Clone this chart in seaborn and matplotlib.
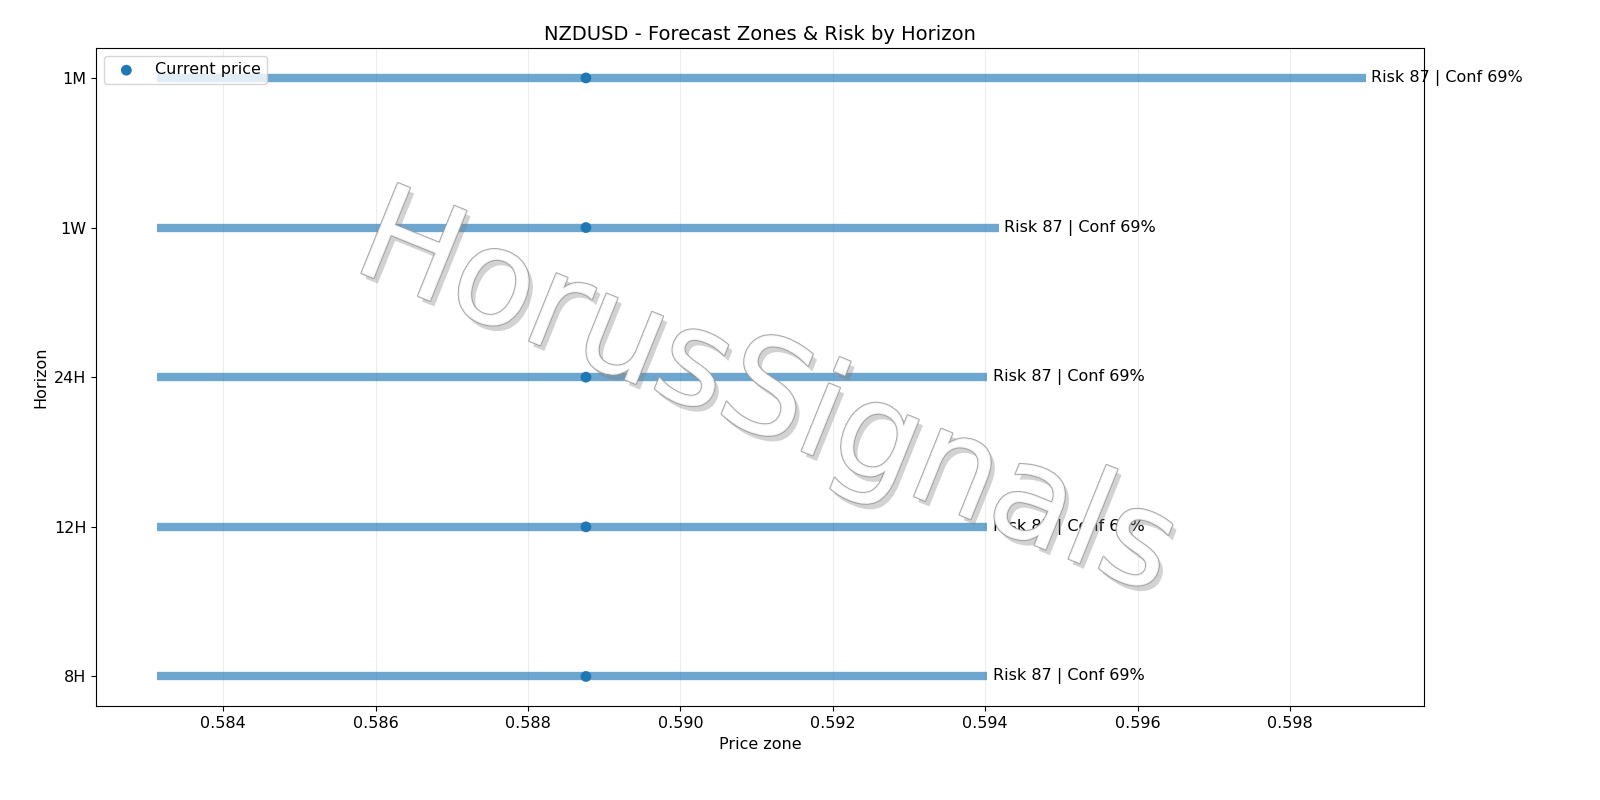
import matplotlib
matplotlib.use("Agg")
import matplotlib.pyplot as plt
import matplotlib.patheffects as pe
import seaborn as sns
import pandas as pd

horizons = ["8H", "12H", "24H", "1W", "1M"]
low = [0.58313, 0.58313, 0.58313, 0.58313, 0.58313]
high = [0.59403, 0.59403, 0.59403, 0.59418, 0.59900]
current = [0.58876, 0.58876, 0.58876, 0.58876, 0.58876]
risk = [87, 87, 87, 87, 87]
conf = [69, 69, 69, 69, 69]

sns.set_style("white")
plt.rcParams.update({"text.color": "black", "axes.labelcolor": "black",
                     "xtick.color": "black", "ytick.color": "black"})
fig, ax = plt.subplots(figsize=(16, 8), dpi=100)
fig.subplots_adjust(left=0.06, right=0.89, top=0.94, bottom=0.117)

ypos = list(range(len(horizons)))
for y, lo, hi in zip(ypos, low, high):
    ax.hlines(y, lo, hi, color="#1f77b4", alpha=0.65, linewidth=6)
df = pd.DataFrame({"price": current, "y": ypos})
sns.scatterplot(data=df, x="price", y="y", ax=ax, color="#1f77b4", s=60,
                edgecolor="none", label="Current price", zorder=3)
for y, hi, r, c in zip(ypos, high, risk, conf):
    ax.text(hi + 0.00007, y, f"Risk {r} | Conf {c}%", va="center", fontsize=11.5)

ax.set_yticks(ypos)
ax.set_yticklabels(horizons)
ax.set_ylim(-0.2, 4.2)
ax.set_xlim(0.58233, 0.59976)
ax.set_xticks([0.584, 0.586, 0.588, 0.590, 0.592, 0.594, 0.596, 0.598])
ax.grid(axis="x", alpha=0.35)
ax.tick_params(labelsize=11.5, left=True, bottom=True)
for s in ax.spines.values():
    s.set_color("black")
ax.set_xlabel("Price zone", fontsize=11.5)
ax.set_ylabel("Horizon", fontsize=11.5)
ax.set_title("NZDUSD - Forecast Zones & Risk by Horizon", fontsize=14)
ax.legend(loc="upper left", fontsize=11.5)

ax.text(0.505, 0.47, "HorusSignals", transform=ax.transAxes, fontsize=96,
        rotation=-22, ha="center", va="center", color="white", alpha=0.85,
        path_effects=[pe.withSimplePatchShadow(offset=(3, -4), shadow_rgbFace="gray", alpha=0.35),
                      pe.Stroke(linewidth=1.5, foreground="#999999"), pe.Normal()],
        zorder=4)

fig.savefig("out.png")
